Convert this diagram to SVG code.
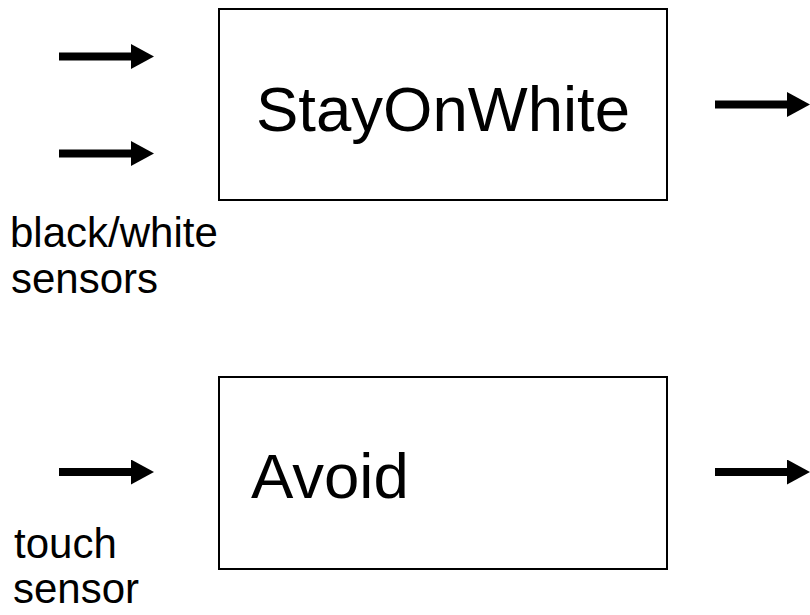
<svg xmlns="http://www.w3.org/2000/svg" width="810" height="615" viewBox="0 0 810 615">
  <style>
    .box { fill: #ffffff; stroke: #000000; stroke-width: 2; }
    .title { font-family: "Liberation Sans", Arial, sans-serif; font-size: 63.5px; fill: #000000; }
    .label { font-family: "Liberation Sans", Arial, sans-serif; font-size: 42px; fill: #000000; }
    .wire { stroke: #000000; stroke-width: 8; fill: none; marker-end: url(#head); }
  </style>
  <defs>
    <marker id="head" markerUnits="userSpaceOnUse" markerWidth="23" markerHeight="25" refX="0" refY="12.5" orient="auto">
      <path d="M0,0 L23,12.5 L0,25 Z" fill="#000000"/>
    </marker>
  </defs>
  <rect width="810" height="615" fill="#ffffff"/>

  <g id="stay-on-white">
    <rect class="box" x="219" y="9" width="448" height="191"/>
    <text class="title" x="443" y="131" text-anchor="middle">StayOnWhite</text>
  </g>

  <g id="avoid">
    <rect class="box" x="219" y="377" width="448" height="192"/>
    <text class="title" x="251" y="498" font-size="64">Avoid</text>
  </g>

  <g id="bw-sensors-label">
    <text class="label" x="10" y="247">black/white</text>
    <text class="label" x="11" y="293">sensors</text>
  </g>

  <g id="touch-sensor-label">
    <text class="label" x="14" y="558">touch</text>
    <text class="label" x="13" y="603">sensor</text>
  </g>

  <g id="connectors">
    <line class="wire" x1="59" y1="56.5" x2="131" y2="56.5"/>
    <line class="wire" x1="59" y1="153.5" x2="131" y2="153.5"/>
    <line class="wire" x1="715" y1="104.5" x2="787" y2="104.5"/>
    <line class="wire" x1="59" y1="472" x2="131" y2="472"/>
    <line class="wire" x1="715" y1="472" x2="787" y2="472"/>
  </g>
</svg>
